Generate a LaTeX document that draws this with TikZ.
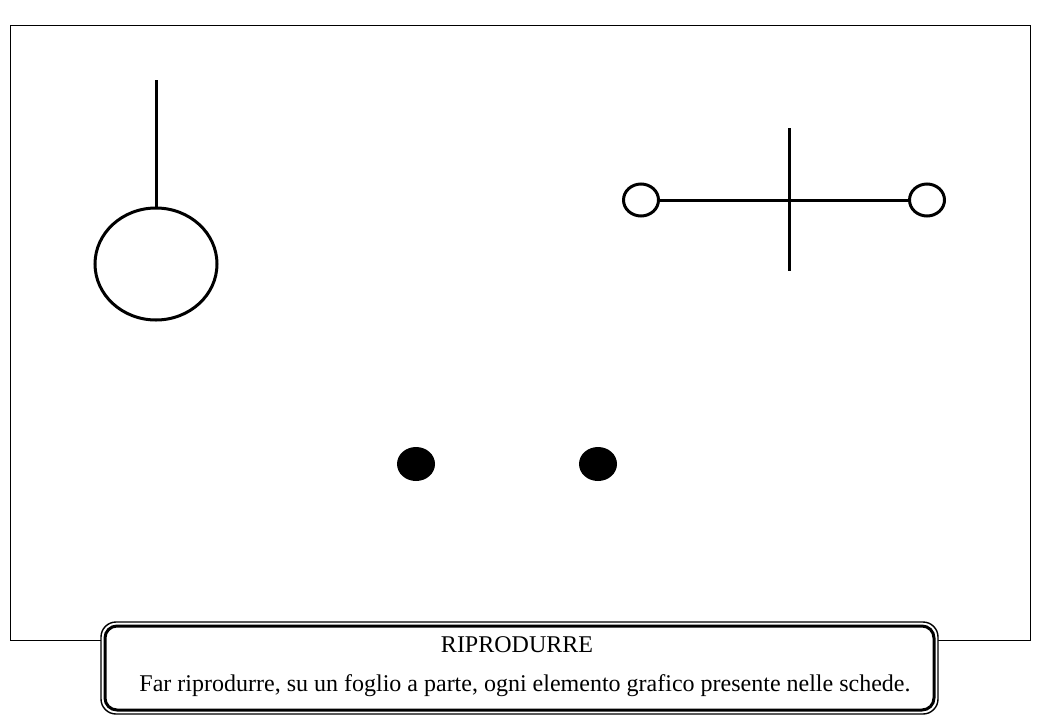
\documentclass[tikz,border=0pt]{standalone}
\usepackage{fontspec}
\setmainfont{Liberation Serif}
\usetikzlibrary{shapes.geometric}

\begin{document}
\begin{tikzpicture}[x=1pt,y=-1pt,line width=3pt,
   Ring/.style = {draw,ellipse,inner sep=0pt,fill=white},
   Dot/.style  = {fill,ellipse,inner sep=0pt,minimum width=38pt,minimum height=34pt}]
   \useasboundingbox (0,0) rectangle (1040,720);
   \draw[line width=1pt] (10,25) rectangle (1030,640);
   % lampadina
   \node[Ring,minimum width=122pt,minimum height=112pt] (bulb) at (156,264) {};
   \coordinate (stem) at (156,80);
   \draw (stem) -- (bulb.north);
   % manubrio con croce
   \node[Ring,minimum width=35pt,minimum height=32pt] (L) at (641,200) {};
   \node[Ring,minimum width=35pt,minimum height=32pt] (R) at (927,200) {};
   \coordinate (top) at (789,128);
   \coordinate (bot) at (789,271);
   \draw (L) -- (R);
   \draw (top) -- (bot);
   % punti
   \node[Dot] (P1) at (416,464) {};
   \node[Dot] (P2) at (598,464) {};
   % riquadro consegna
   \draw[line width=1.4pt,fill=white,rounded corners=15pt] (101,622) rectangle (938,714);
   \draw[line width=3pt,rounded corners=12pt] (105,626) rectangle (934,710);
   \node[font=\fontsize{24}{28}\selectfont] (title) at (517,645) {RIPRODURRE};
   \node[font=\fontsize{24}{28}\selectfont] (task) at (525,686)
      {Far riprodurre, su un foglio a parte, ogni elemento grafico presente nelle schede.};
\end{tikzpicture}
\end{document}
